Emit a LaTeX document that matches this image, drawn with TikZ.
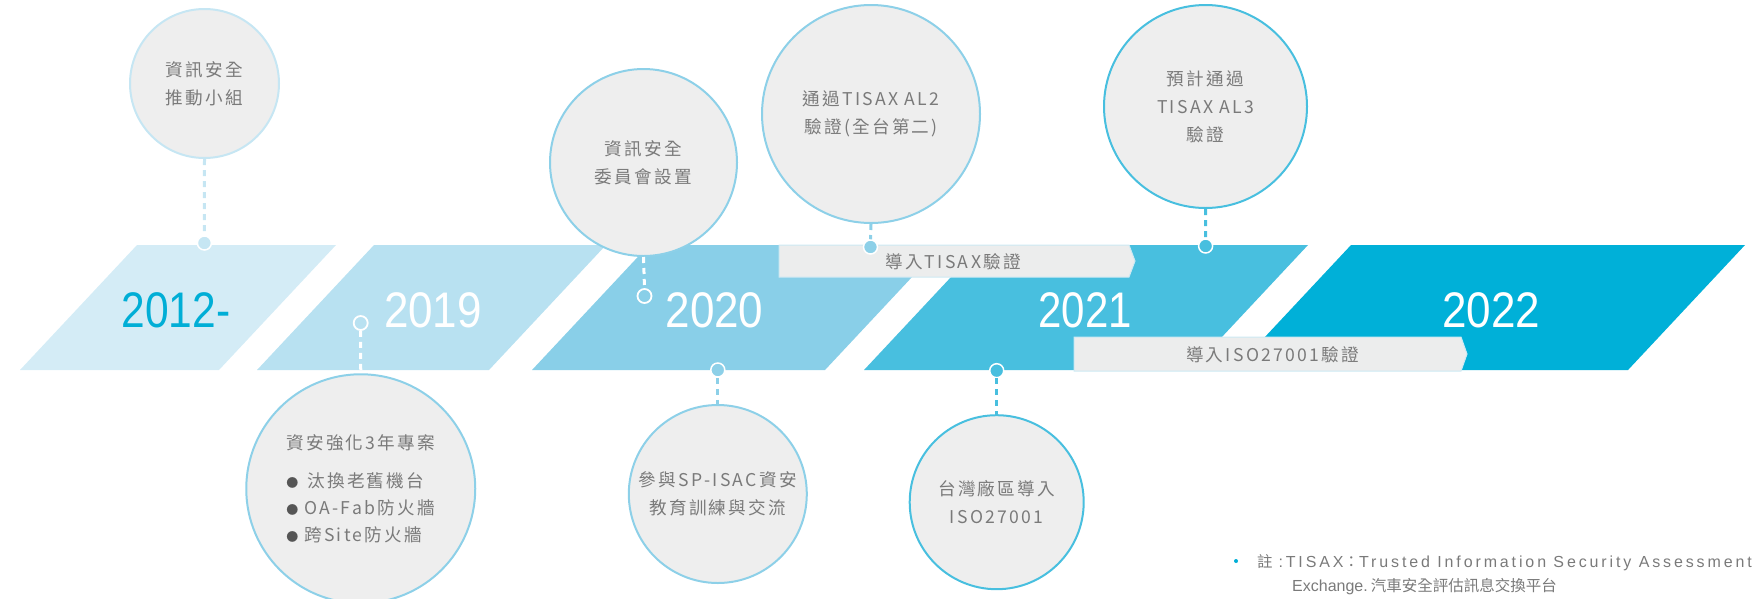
\documentclass[tikz,border=0pt]{standalone}
\usepackage{fontspec}
\setmainfont{Noto Sans CJK TC}
\newfontfamily\labfont[LetterSpace=13]{Noto Sans CJK TC}
\newfontfamily\yearfont{Liberation Sans}
\newfontfamily\notefont[LetterSpace=18]{Liberation Sans}
\newfontfamily\notelat{Liberation Sans}
\newfontfamily\notecjk{Noto Sans CJK TC}
\definecolor{bA}{HTML}{D4ECF6}
\definecolor{bB}{HTML}{B8E1F1}
\definecolor{bC}{HTML}{89CFE8}
\definecolor{bD}{HTML}{48BFDF}
\definecolor{bE}{HTML}{00B0D8}
\definecolor{cfill}{HTML}{EEEEEE}
\definecolor{ctext}{HTML}{7A7A7A}
\definecolor{cbA}{HTML}{C6E6F3}
\definecolor{cbB}{HTML}{8DD0E8}
\definecolor{cbD}{HTML}{48BFDF}
\definecolor{yrA}{HTML}{00AED6}
\definecolor{barfill}{HTML}{ECEDED}
\definecolor{barline}{HTML}{CDE9F3}
\definecolor{bul}{HTML}{555555}
\begin{document}
\begin{tikzpicture}[x=1pt,y=-1pt,
  bubble/.style={circle, fill=cfill, line width=2pt, inner sep=0pt, align=center,
    text=ctext, font=\labfont\fontsize{17.6}{28}\selectfont},
  dotf/.style={circle, minimum size=14pt, inner sep=0pt, draw=white, line width=1.5pt},
  ring/.style={circle, minimum size=14pt, inner sep=0pt, draw=white, line width=1.8pt},
  dashln/.style={line width=3pt, dash pattern=on 6pt off 5pt},
  yr/.style={font=\yearfont\fontsize{50}{50}\selectfont, inner sep=0pt, anchor=base},
  barf/.style={fill=barfill, draw=barline, line width=1pt},
  bartext/.style={font=\labfont\fontsize{17.6}{20}\selectfont, text=ctext, inner sep=0pt}
]
\useasboundingbox (0,0) rectangle (1755,598);
\clip (0,0) rectangle (1755,598);
% bands
\fill[bA] (137,245) -- (336,245) -- (219,370) -- (20,370) -- cycle;
\fill[bB] (374,245) -- (606,245) -- (489,370) -- (257,370) -- cycle;
\fill[bC] (649,245) -- (942,245) -- (825,370) -- (532,370) -- cycle;
\fill[bD] (981,245) -- (1308,245) -- (1191,370) -- (864,370) -- cycle;
\fill[bE] (1351,245) -- (1745,245) -- (1628,370) -- (1234,370) -- cycle;
% years
\node[yr, text=yrA] (y2012) at (176,327.7) {\scalebox{0.85}[1]{2012-}};
\node[yr, text=white] (y2019) at (433,327.7) {\scalebox{0.88}[1]{2019}};
\node[yr, text=white] (y2020) at (714.5,327.7) {\scalebox{0.88}[1]{2020}};
\node[yr, text=white] (y2021) at (1085,327.7) {\scalebox{0.84}[1]{2021}};
\node[yr, text=white] (y2022) at (1491,327.7) {\scalebox{0.88}[1]{2022}};
% bars
\draw[barf] (779,245) -- (1129,245) -- (1135,261) -- (1129,277) -- (779,277) -- cycle;
\node[bartext] (tisax) at (953,261.5) {導入TISAX驗證};
\draw[barf] (1074,337) -- (1461,337) -- (1467,354) -- (1461,371) -- (1074,371) -- cycle;
\node[bartext] (iso) at (1272.6,355) {導入ISO27001驗證};
% bubbles
\node[bubble, draw=cbA, minimum size=149pt] (c1) at (204.5,83.5) {資訊安全\\推動小組};
\node[bubble, draw=cbB, minimum size=187pt] (c2) at (643.5,162.5) {資訊安全\\委員會設置};
\node[bubble, draw=cbB, minimum size=218pt] (c3) at (871,114) {通過TISAX AL2\\驗證(全台第二)};
\node[bubble, draw=cbD, minimum size=203pt] (c4) at (1205.5,106.5) {預計通過\\TISAX AL3\\驗證};
\node[bubble, draw=cbB, minimum size=229pt, align=left,
  font=\labfont\fontsize{17.6}{26.7}\selectfont] (c5) at (360.75,488.75)
  {資安強化3年專案\\[11pt]
   {\color{bul}\fontsize{12}{12}\selectfont ●}\hspace{9pt}汰換老舊機台\\
   {\color{bul}\fontsize{12}{12}\selectfont ●}\hspace{6pt}OA-Fab防火牆\\
   {\color{bul}\fontsize{12}{12}\selectfont ●}\hspace{6pt}跨Site防火牆};
\node[bubble, draw=cbB, minimum size=178pt] (c6) at (717.8,494) {參與SP-ISAC資安\\教育訓練與交流};
\node[bubble, draw=cbD, minimum size=174pt] (c7) at (996.7,502.2) {台灣廠區導入\\ISO27001};
% dots
\node[dotf, fill=cbA] (d1) at (204.4,243) {};
\node[ring] (d2) at (360.7,323) {};
\node[ring] (d3) at (644.5,296) {};
\node[dotf, fill=cbB] (d4) at (870.5,247) {};
\node[dotf, fill=cbD] (d5) at (1205.6,246) {};
\node[dotf, fill=cbB] (d6) at (717.8,370) {};
\node[dotf, fill=cbD] (d7) at (996.7,370.7) {};
% connectors
\draw[dashln, cbA] (c1.south) -- (d1.north);
\draw[dashln, white] (d2.south) -- (c5.north);
\draw[dashln, white] (c2.south) -- (d3.north);
\draw[dashln, cbB] (c3.south) -- (d4.north);
\draw[dashln, cbD] (c4.south) -- (d5.north);
\draw[dashln, cbB] (d6.south) -- (c6.north);
\draw[dashln, cbD] (d7.south) -- (c7.north);
% note
\node[circle, fill=yrA, inner sep=0pt, minimum size=4pt] (nb) at (1236,561) {};
\node[anchor=base west, inner sep=0pt, text=ctext] (n1) at (1256.8,567)
  {{\notecjk\fontsize{15.5}{16}\selectfont 註}\hspace{6pt}{\notefont\fontsize{16}{16}\selectfont :TISAX}{\notecjk\fontsize{15.5}{16}\selectfont ：}{\notefont\fontsize{16}{16}\selectfont Trusted Information Security Assessment}};
\node[anchor=base west, inner sep=0pt, text=ctext] (n2) at (1292,591)
  {{\notelat\fontsize{16}{16}\selectfont Exchange.} {\notecjk\fontsize{15.5}{16}\selectfont 汽車安全評估訊息交換平台}};
\end{tikzpicture}
\end{document}
